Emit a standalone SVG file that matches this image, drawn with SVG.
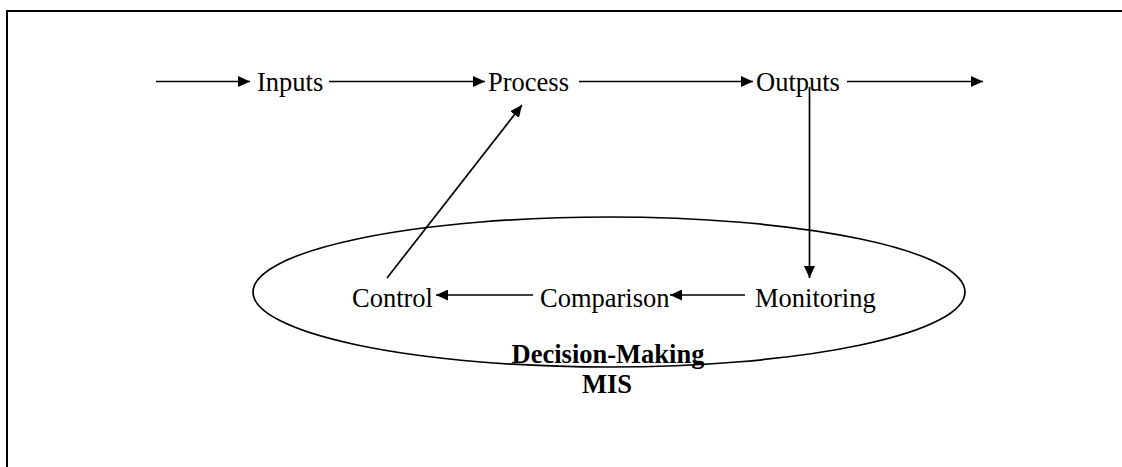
<svg xmlns="http://www.w3.org/2000/svg" width="1122" height="467" viewBox="0 0 1122 467">
<style>
text{font-family:"Liberation Serif","Times New Roman",serif;font-size:26.5px;fill:#000}
.b{font-weight:bold}
.c{stroke:#000;stroke-width:1.7;fill:none}
</style>
<defs>
<marker id="ah" viewBox="0 0 12 11" refX="12" refY="5.5" markerWidth="12" markerHeight="11" markerUnits="userSpaceOnUse" orient="auto">
<path d="M0,0 L12,5.5 L0,11 Z" fill="#000"/>
</marker>
</defs>
<rect width="1122" height="467" fill="#fff"/>
<path d="M7,467 V11 H1122" fill="none" stroke="#000" stroke-width="2"/>
<g id="mis">
<ellipse cx="609" cy="292" rx="356" ry="75" class="c"/>
<text class="b" x="608" y="363" text-anchor="middle">Decision-Making</text>
<text class="b" x="607" y="393" text-anchor="middle">MIS</text>
</g>
<g id="inputs"><text x="257" y="91">Inputs</text></g>
<g id="process"><text x="488" y="91">Process</text></g>
<g id="outputs"><text x="756" y="91">Outputs</text></g>
<g id="control"><text x="352" y="307">Control</text></g>
<g id="comparison"><text x="540" y="307">Comparison</text></g>
<g id="monitoring"><text x="755" y="307">Monitoring</text></g>
<g id="connectors" class="c">
<line x1="156" y1="81.5" x2="250" y2="81.5" marker-end="url(#ah)"/>
<line x1="329" y1="81.5" x2="485" y2="81.5" marker-end="url(#ah)"/>
<line x1="579" y1="81.5" x2="753" y2="81.5" marker-end="url(#ah)"/>
<line x1="847" y1="81.5" x2="983" y2="81.5" marker-end="url(#ah)"/>
<line x1="809.5" y1="87" x2="809.5" y2="278" marker-end="url(#ah)"/>
<line x1="745" y1="295" x2="670" y2="295" marker-end="url(#ah)"/>
<line x1="533" y1="295" x2="436" y2="295" marker-end="url(#ah)"/>
<line x1="387" y1="278" x2="522" y2="105" marker-end="url(#ah)"/>
</g>
</svg>
